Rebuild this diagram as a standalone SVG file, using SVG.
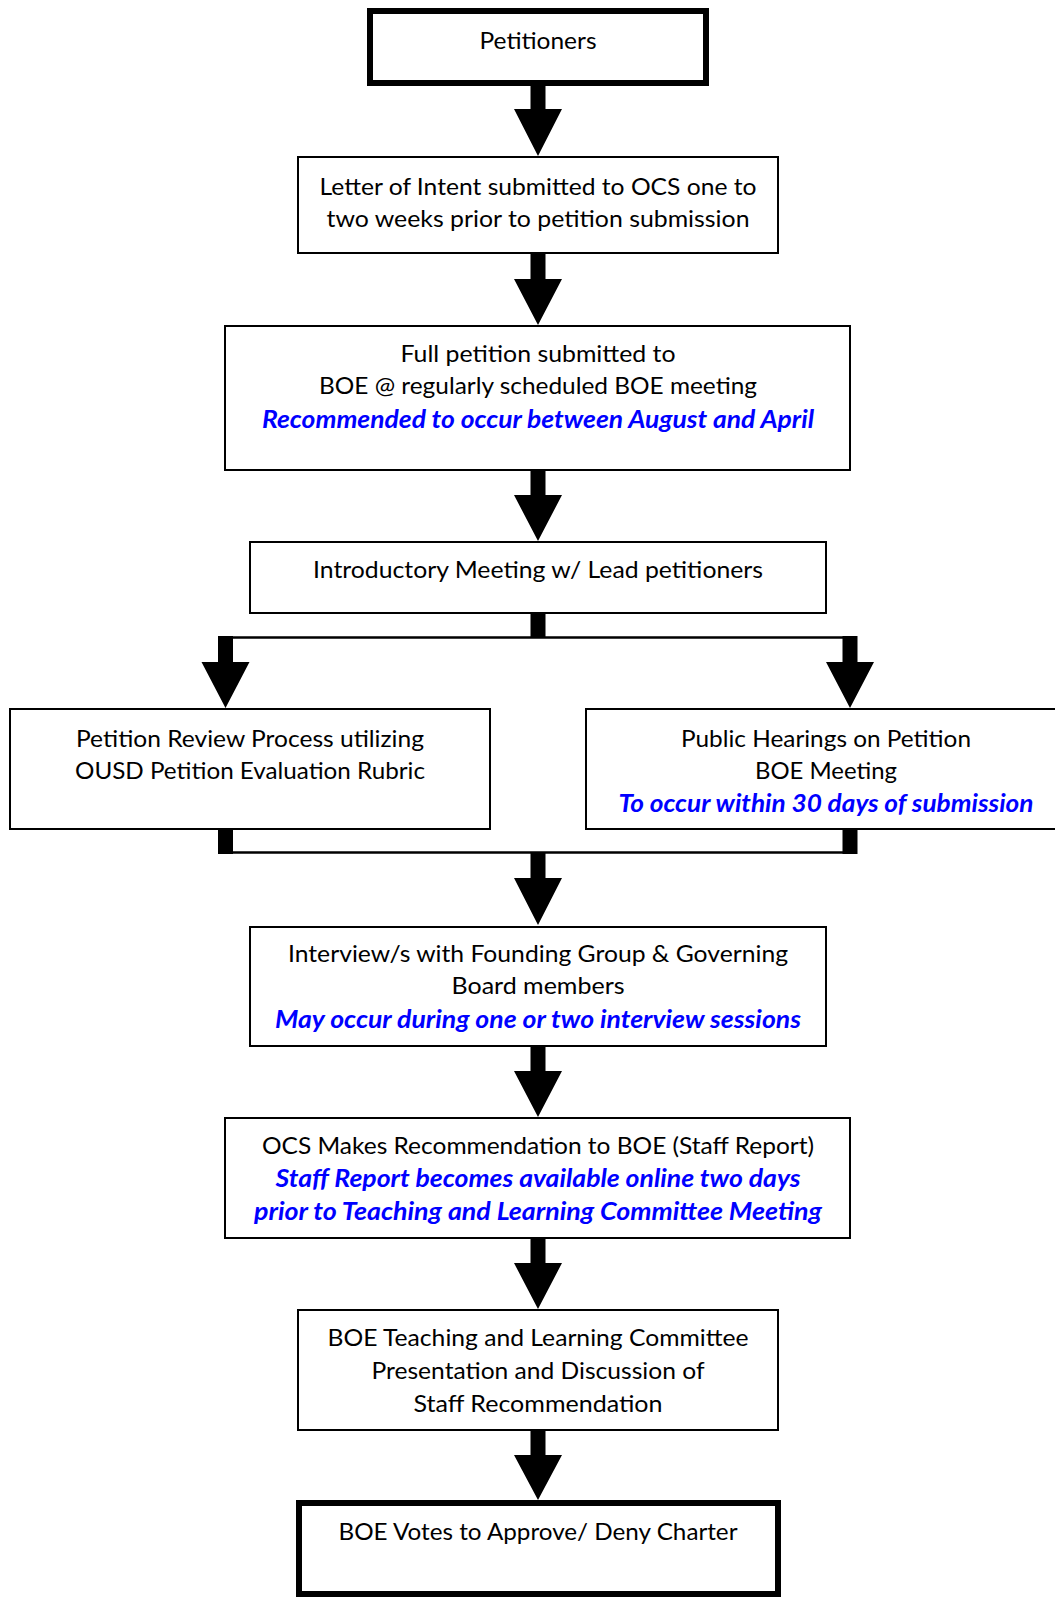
<svg xmlns="http://www.w3.org/2000/svg" width="1055" height="1598" viewBox="0 0 1055 1598">
<style>
  .bg { fill: #ffffff; }
  .box { fill: #ffffff; stroke: #000000; stroke-width: 2; }
  .thick { fill: #ffffff; stroke: #000000; stroke-width: 6; }
  .t { font-family: Lato, "Open Sans", "Liberation Sans", sans-serif; font-size: 24px; fill: #000000; text-anchor: middle; }
  .b { font-family: Lato, "Open Sans", "Liberation Sans", sans-serif; font-size: 24px; fill: #0000ff; font-weight: bold; font-style: italic; text-anchor: middle; }
  .arrow { fill: #000000; stroke: none; }
  .line { stroke: #000000; stroke-width: 2.5; fill: none; }
</style>
<rect class="bg" x="0" y="0" width="1055" height="1598"/>

<g id="connectors">
  <!-- Petitioners -> Letter -->
  <polygon class="arrow" points="530.5,86 545.5,86 545.5,109 562,109 538,156 514,109 530.5,109"/>
  <!-- Letter -> Full petition -->
  <polygon class="arrow" points="530.5,254 545.5,254 545.5,279 562,279 538,325 514,279 530.5,279"/>
  <!-- Full petition -> Introductory -->
  <polygon class="arrow" points="530.5,471 545.5,471 545.5,495 562,495 538,541 514,495 530.5,495"/>
  <!-- Introductory -> split -->
  <rect class="arrow" x="530.5" y="614" width="15" height="24"/>
  <line class="line" x1="225" y1="637.5" x2="850" y2="637.5"/>
  <polygon class="arrow" points="218,636 233,636 233,662 249.5,662 225.5,708 201.5,662 218,662"/>
  <polygon class="arrow" points="842.5,636 857.5,636 857.5,662 874,662 850,708 826,662 842.5,662"/>
  <!-- merge -->
  <rect class="arrow" x="218" y="830" width="15" height="24"/>
  <rect class="arrow" x="842.5" y="830" width="15" height="24"/>
  <line class="line" x1="225" y1="852.5" x2="850" y2="852.5"/>
  <polygon class="arrow" points="530.5,852 545.5,852 545.5,878 562,878 538,925 514,878 530.5,878"/>
  <!-- Interview -> OCS -->
  <polygon class="arrow" points="530.5,1047 545.5,1047 545.5,1071 562,1071 538,1117 514,1071 530.5,1071"/>
  <!-- OCS -> BOE Teaching -->
  <polygon class="arrow" points="530.5,1239 545.5,1239 545.5,1263 562,1263 538,1309 514,1263 530.5,1263"/>
  <!-- BOE Teaching -> BOE Votes -->
  <polygon class="arrow" points="530.5,1431 545.5,1431 545.5,1455 562,1455 538,1500 514,1455 530.5,1455"/>
</g>

<g id="node-petitioners">
  <rect class="thick" x="370" y="11" width="336" height="72"/>
  <text class="t" x="538" y="49" textLength="117" lengthAdjust="spacingAndGlyphs">Petitioners</text>
</g>

<g id="node-letter">
  <rect class="box" x="298" y="157" width="480" height="96"/>
  <text class="t" x="538" y="195" textLength="437" lengthAdjust="spacingAndGlyphs">Letter of Intent submitted to OCS one to</text>
  <text class="t" x="538" y="227" textLength="423" lengthAdjust="spacingAndGlyphs">two weeks prior to petition submission</text>
</g>

<g id="node-full-petition">
  <rect class="box" x="225" y="326" width="625" height="144"/>
  <text class="t" x="538" y="362" textLength="275" lengthAdjust="spacingAndGlyphs">Full petition submitted to</text>
  <text class="t" x="538" y="394" textLength="438" lengthAdjust="spacingAndGlyphs">BOE @ regularly scheduled BOE meeting</text>
  <text class="b" x="538" y="428" textLength="552" lengthAdjust="spacingAndGlyphs">Recommended to occur between August and April</text>
</g>

<g id="node-introductory">
  <rect class="box" x="250" y="542" width="576" height="71"/>
  <text class="t" x="538" y="578" textLength="450" lengthAdjust="spacingAndGlyphs">Introductory Meeting w/ Lead petitioners</text>
</g>

<g id="node-review">
  <rect class="box" x="10" y="709" width="480" height="120"/>
  <text class="t" x="250" y="747" textLength="348" lengthAdjust="spacingAndGlyphs">Petition Review Process utilizing</text>
  <text class="t" x="250" y="779" textLength="350" lengthAdjust="spacingAndGlyphs">OUSD Petition Evaluation Rubric</text>
</g>

<g id="node-hearings">
  <rect class="box" x="586" y="709" width="500" height="120"/>
  <text class="t" x="826" y="747" textLength="290" lengthAdjust="spacingAndGlyphs">Public Hearings on Petition</text>
  <text class="t" x="826" y="779" textLength="142" lengthAdjust="spacingAndGlyphs">BOE Meeting</text>
  <text class="b" x="826" y="812" textLength="415" lengthAdjust="spacingAndGlyphs">To occur within 30 days of submission</text>
</g>

<g id="node-interview">
  <rect class="box" x="250" y="927" width="576" height="119"/>
  <text class="t" x="538" y="962" textLength="500" lengthAdjust="spacingAndGlyphs">Interview/s with Founding Group &amp; Governing</text>
  <text class="t" x="538" y="994" textLength="173" lengthAdjust="spacingAndGlyphs">Board members</text>
  <text class="b" x="538" y="1028" textLength="526" lengthAdjust="spacingAndGlyphs">May occur during one or two interview sessions</text>
</g>

<g id="node-ocs">
  <rect class="box" x="225" y="1118" width="625" height="120"/>
  <text class="t" x="538" y="1154" textLength="552" lengthAdjust="spacingAndGlyphs">OCS Makes Recommendation to BOE (Staff Report)</text>
  <text class="b" x="538" y="1187" textLength="525" lengthAdjust="spacingAndGlyphs">Staff Report becomes available online two days</text>
  <text class="b" x="538" y="1220" textLength="568" lengthAdjust="spacingAndGlyphs">prior to Teaching and Learning Committee Meeting</text>
</g>

<g id="node-committee">
  <rect class="box" x="298" y="1310" width="480" height="120"/>
  <text class="t" x="538" y="1346" textLength="421" lengthAdjust="spacingAndGlyphs">BOE Teaching and Learning Committee</text>
  <text class="t" x="538" y="1379" textLength="333" lengthAdjust="spacingAndGlyphs">Presentation and Discussion of</text>
  <text class="t" x="538" y="1412" textLength="249" lengthAdjust="spacingAndGlyphs">Staff Recommendation</text>
</g>

<g id="node-vote">
  <rect class="thick" x="299" y="1503" width="479" height="91"/>
  <text class="t" x="538" y="1540" textLength="399" lengthAdjust="spacingAndGlyphs">BOE Votes to Approve/ Deny Charter</text>
</g>
</svg>
